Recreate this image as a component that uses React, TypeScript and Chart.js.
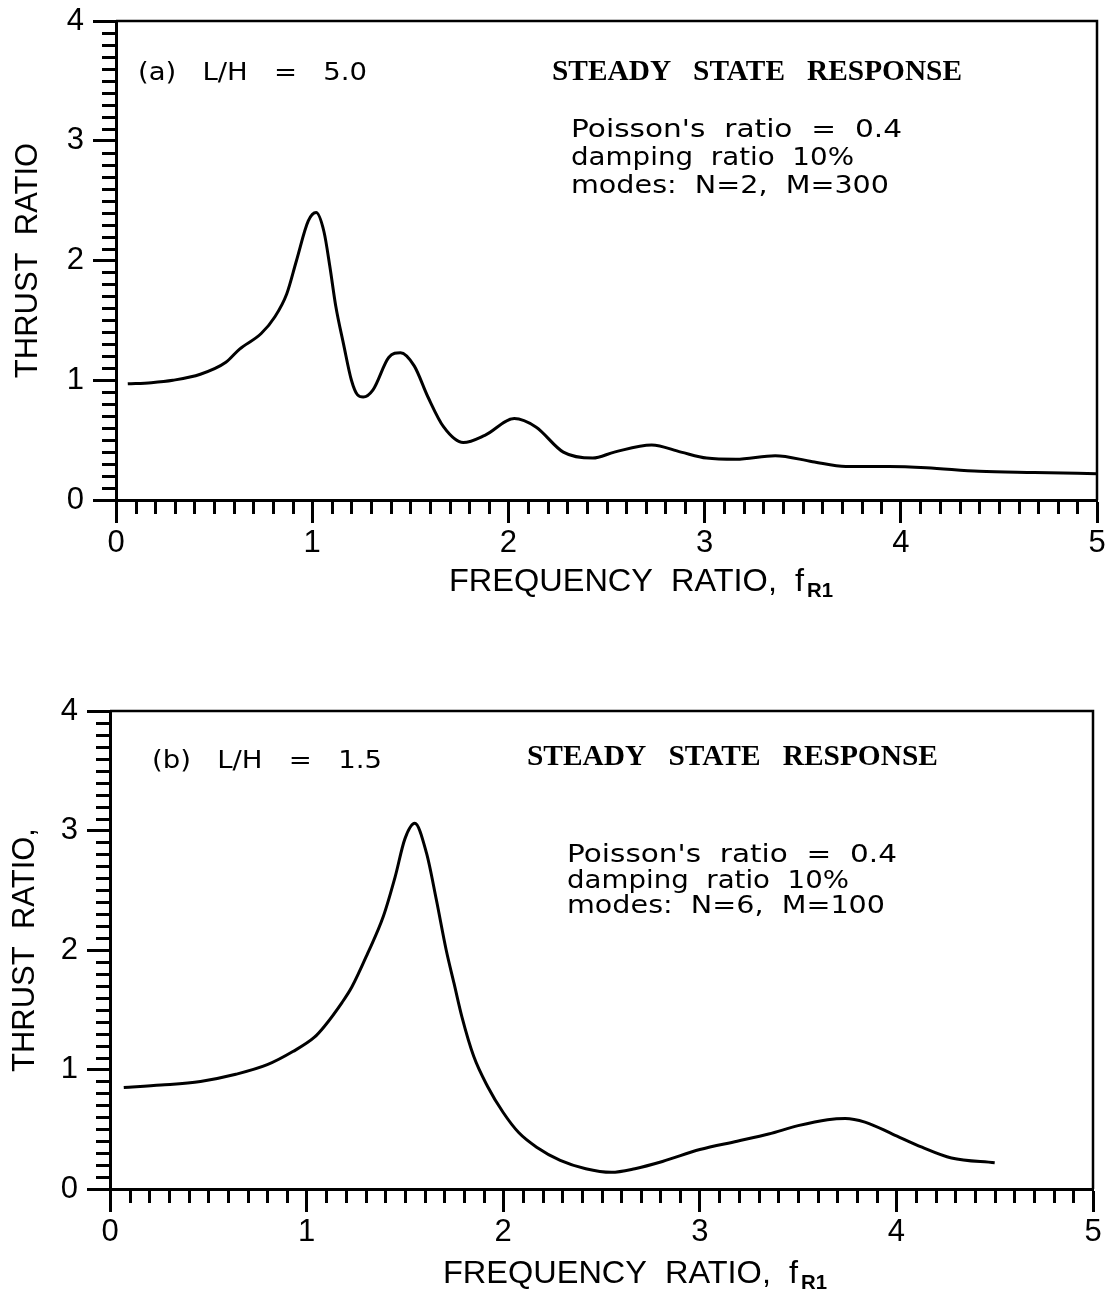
import React, { useEffect, useRef } from 'react';
import { Chart, registerables } from 'chart.js';

Chart.register(...registerables);

// ---------------- data ----------------
const freqA = [0.06, 0.18, 0.29, 0.43, 0.56, 0.63, 0.74, 0.81, 0.87, 0.92, 0.98, 1.02, 1.06, 1.09, 1.12, 1.16, 1.2, 1.23, 1.26, 1.31, 1.39, 1.45, 1.52, 1.59, 1.67, 1.77, 1.88, 2.03, 2.14, 2.28, 2.43, 2.54, 2.73, 2.88, 3.01, 3.16, 3.36, 3.55, 3.72, 3.94, 4.13, 4.4, 4.68, 5.0];
const thrustA = [0.97, 0.98, 1.0, 1.05, 1.15, 1.26, 1.39, 1.53, 1.72, 2.0, 2.33, 2.4, 2.24, 1.95, 1.62, 1.3, 1.0, 0.88, 0.86, 0.92, 1.19, 1.23, 1.12, 0.86, 0.61, 0.48, 0.54, 0.68, 0.61, 0.4, 0.35, 0.4, 0.46, 0.4, 0.35, 0.34, 0.37, 0.32, 0.28, 0.28, 0.27, 0.24, 0.23, 0.22];

const freqB = [0.07, 0.26, 0.46, 0.64, 0.8, 0.93, 1.04, 1.09, 1.18, 1.23, 1.31, 1.39, 1.45, 1.5, 1.55, 1.61, 1.66, 1.71, 1.75, 1.79, 1.85, 1.92, 2.0, 2.08, 2.17, 2.29, 2.42, 2.55, 2.67, 2.81, 3.0, 3.19, 3.35, 3.5, 3.65, 3.74, 3.84, 3.98, 4.13, 4.28, 4.5];
const thrustB = [0.85, 0.87, 0.9, 0.96, 1.04, 1.15, 1.27, 1.36, 1.56, 1.69, 1.97, 2.28, 2.61, 2.93, 3.06, 2.81, 2.42, 2.0, 1.72, 1.44, 1.11, 0.86, 0.64, 0.47, 0.35, 0.24, 0.17, 0.14, 0.17, 0.23, 0.33, 0.4, 0.46, 0.53, 0.58, 0.59, 0.56, 0.46, 0.35, 0.26, 0.22];

const xTickValues = [0, 1, 2, 3, 4, 5];
const xTickLabels = ['0', '1', '2', '3', '4', '5'];
const yTickValues = [0, 1, 2, 3, 4];
const yTickLabels = ['0', '1', '2', '3', '4'];

const xTitleMain = 'FREQUENCY  RATIO,  f';
const xTitleSub = 'R1';
const yTitleA = 'THRUST  RATIO';
const yTitleB = 'THRUST  RATIO,';
const headerA = '(a)   L/H   =   5.0';
const headerB = '(b)   L/H   =   1.5';
const bannerText = 'STEADY   STATE   RESPONSE';
const notesA = ["Poisson's  ratio  =  0.4", 'damping  ratio  10%', 'modes:  N=2,  M=300'];
const notesB = ["Poisson's  ratio  =  0.4", 'damping  ratio  10%', 'modes:  N=6,  M=100'];

// ---------------- styles / layout ----------------
const W = 1115;
const SANS = '"Liberation Sans", Arial, sans-serif';
const NOTE = '"DejaVu Sans", sans-serif';
const SERIF = '"Liberation Serif", "Times New Roman", serif';

type TextItem = { text: string; x: number; y: number; w: number; font: string };
type Panel = {
  top: number; height: number;
  left: number; right: number; areaTop: number; areaBottom: number;
  xs: number[]; ys: number[]; yTitle: string; yTitlePad: number;
  texts: TextItem[];
  xTitle: { x: number; y: number; w: number; subX: number; subY: number; subW: number };
};

const panels: Panel[] = [
  {
    top: 0, height: 640, left: 116, right: 1097, areaTop: 21, areaBottom: 500,
    xs: freqA, ys: thrustA, yTitle: yTitleA, yTitlePad: 10,
    texts: [
      { text: headerA, x: 138, y: 80, w: 229, font: `25px ${NOTE}` },
      { text: bannerText, x: 552, y: 80, w: 410, font: `bold 30px ${SERIF}` },
      { text: notesA[0], x: 571, y: 137, w: 331, font: `25px ${NOTE}` },
      { text: notesA[1], x: 571, y: 165, w: 283, font: `25px ${NOTE}` },
      { text: notesA[2], x: 571, y: 193, w: 318, font: `25px ${NOTE}` },
    ],
    xTitle: { x: 449, y: 591, w: 355, subX: 807, subY: 597, subW: 26 },
  },
  {
    top: 640, height: 652, left: 110, right: 1093, areaTop: 71, areaBottom: 549,
    xs: freqB, ys: thrustB, yTitle: yTitleB, yTitlePad: 7,
    texts: [
      { text: headerB, x: 152, y: 128, w: 230, font: `25px ${NOTE}` },
      { text: bannerText, x: 527, y: 125, w: 411, font: `bold 30px ${SERIF}` },
      { text: notesB[0], x: 567, y: 222, w: 330, font: `25px ${NOTE}` },
      { text: notesB[1], x: 567, y: 248, w: 282, font: `25px ${NOTE}` },
      { text: notesB[2], x: 567, y: 273, w: 318, font: `25px ${NOTE}` },
    ],
    xTitle: { x: 443, y: 643, w: 355, subX: 801, subY: 649, subW: 26 },
  },
];

function drawFit(ctx: CanvasRenderingContext2D, text: string, x: number, y: number, w: number, font: string) {
  ctx.save();
  ctx.font = font;
  ctx.fillStyle = '#000';
  ctx.textAlign = 'left';
  ctx.textBaseline = 'alphabetic';
  const m = ctx.measureText(text).width || 1;
  ctx.translate(x, y);
  ctx.scale(w / m, 1);
  ctx.fillText(text, 0, 0);
  ctx.restore();
}

function makeDecor(p: Panel) {
  return {
    id: 'decor' + p.top,
    afterDraw(chart: any) {
      const ctx: CanvasRenderingContext2D = chart.ctx;
      const a = chart.chartArea;
      const xs = chart.scales.x;
      const ys = chart.scales.y;
      ctx.save();
      ctx.strokeStyle = '#000';
      // frame: top and right
      ctx.lineWidth = 2.5;
      ctx.beginPath();
      ctx.moveTo(a.left, a.top);
      ctx.lineTo(a.right, a.top);
      ctx.lineTo(a.right, a.bottom);
      ctx.stroke();
      // minor ticks
      ctx.lineWidth = 3;
      ctx.beginPath();
      for (let i = 1; i < 50; i++) {
        if (i % 10 === 0) continue;
        const px = Math.round(xs.getPixelForValue(i / 10)) + 0.5;
        ctx.moveTo(px, a.bottom);
        ctx.lineTo(px, a.bottom + 14);
      }
      for (let i = 1; i < 40; i++) {
        if (i % 10 === 0) continue;
        const py = Math.round(ys.getPixelForValue(i / 10)) + 0.5;
        ctx.moveTo(a.left - 14, py);
        ctx.lineTo(a.left, py);
      }
      ctx.stroke();
      ctx.restore();
      // annotations
      for (const t of p.texts) drawFit(ctx, t.text, t.x, t.y, t.w, t.font);
      // x title with subscript
      drawFit(ctx, xTitleMain, p.xTitle.x, p.xTitle.y, p.xTitle.w, `31px ${SANS}`);
      drawFit(ctx, xTitleSub, p.xTitle.subX, p.xTitle.subY, p.xTitle.subW, `bold 21px ${SANS}`);
    },
  };
}

function PanelChart({ p }: { p: Panel }) {
  const ref = useRef<HTMLCanvasElement | null>(null);
  useEffect(() => {
    if (!ref.current) return;
    const chart = new Chart(ref.current, {
      type: 'line',
      data: {
        datasets: [
          {
            data: p.xs.map((x, i) => ({ x, y: p.ys[i] })),
            borderColor: '#000',
            borderWidth: 3,
            pointRadius: 0,
            fill: false,
            cubicInterpolationMode: 'monotone',
          },
        ],
      },
      options: {
        animation: false,
        responsive: false,
        maintainAspectRatio: false,
        events: [],
        layout: { padding: { top: p.areaTop, right: W - p.right, left: 0, bottom: 0 } },
        plugins: { legend: { display: false }, tooltip: { enabled: false }, title: { display: false } },
        scales: {
          x: {
            type: 'linear',
            min: 0,
            max: 5,
            afterFit: (s: any) => {
              s.height = p.height - p.areaBottom;
              s.paddingLeft = 0;
              s.paddingRight = 0;
            },
            afterBuildTicks: (s: any) => { s.ticks = xTickValues.map((v) => ({ value: v })); },
            ticks: {
              autoSkip: false,
              maxRotation: 0,
              padding: 2,
              color: '#000',
              font: { family: SANS, size: 31 },
              callback: (v: any) => xTickLabels[xTickValues.indexOf(Number(v))] ?? '',
            },
            grid: { drawOnChartArea: false, drawTicks: true, tickLength: 23, tickWidth: 3, tickColor: '#000' },
            border: { display: true, color: '#000', width: 3 },
          },
          y: {
            type: 'linear',
            min: 0,
            max: 4,
            afterFit: (s: any) => {
              s.width = p.left;
              s.paddingTop = 0;
              s.paddingBottom = 0;
            },
            afterBuildTicks: (s: any) => { s.ticks = yTickValues.map((v) => ({ value: v })); },
            ticks: {
              autoSkip: false,
              padding: 9,
              color: '#000',
              font: { family: SANS, size: 31 },
              callback: (v: any) => yTickLabels[yTickValues.indexOf(Number(v))] ?? '',
            },
            title: {
              display: true,
              text: p.yTitle,
              color: '#000',
              font: { family: SANS, size: 31 },
              padding: { top: p.yTitlePad, bottom: 0 },
            },
            grid: { drawOnChartArea: false, drawTicks: true, tickLength: 23, tickWidth: 3, tickColor: '#000' },
            border: { display: true, color: '#000', width: 3 },
          },
        },
      },
      plugins: [makeDecor(p)],
    } as any);
    return () => chart.destroy();
  }, [p]);
  return (
    <canvas
      ref={ref}
      width={W}
      height={p.height}
      style={{ position: 'absolute', left: 0, top: p.top, width: W, height: p.height, display: 'block' }}
    />
  );
}

export default function App() {
  useEffect(() => {
    document.body.style.margin = '0';
    document.body.style.background = '#fff';
  }, []);
  return (
    <div style={{ position: 'relative', width: W, height: 1292, background: '#fff', overflow: 'hidden' }}>
      {panels.map((p) => (
        <PanelChart key={p.top} p={p} />
      ))}
    </div>
  );
}
